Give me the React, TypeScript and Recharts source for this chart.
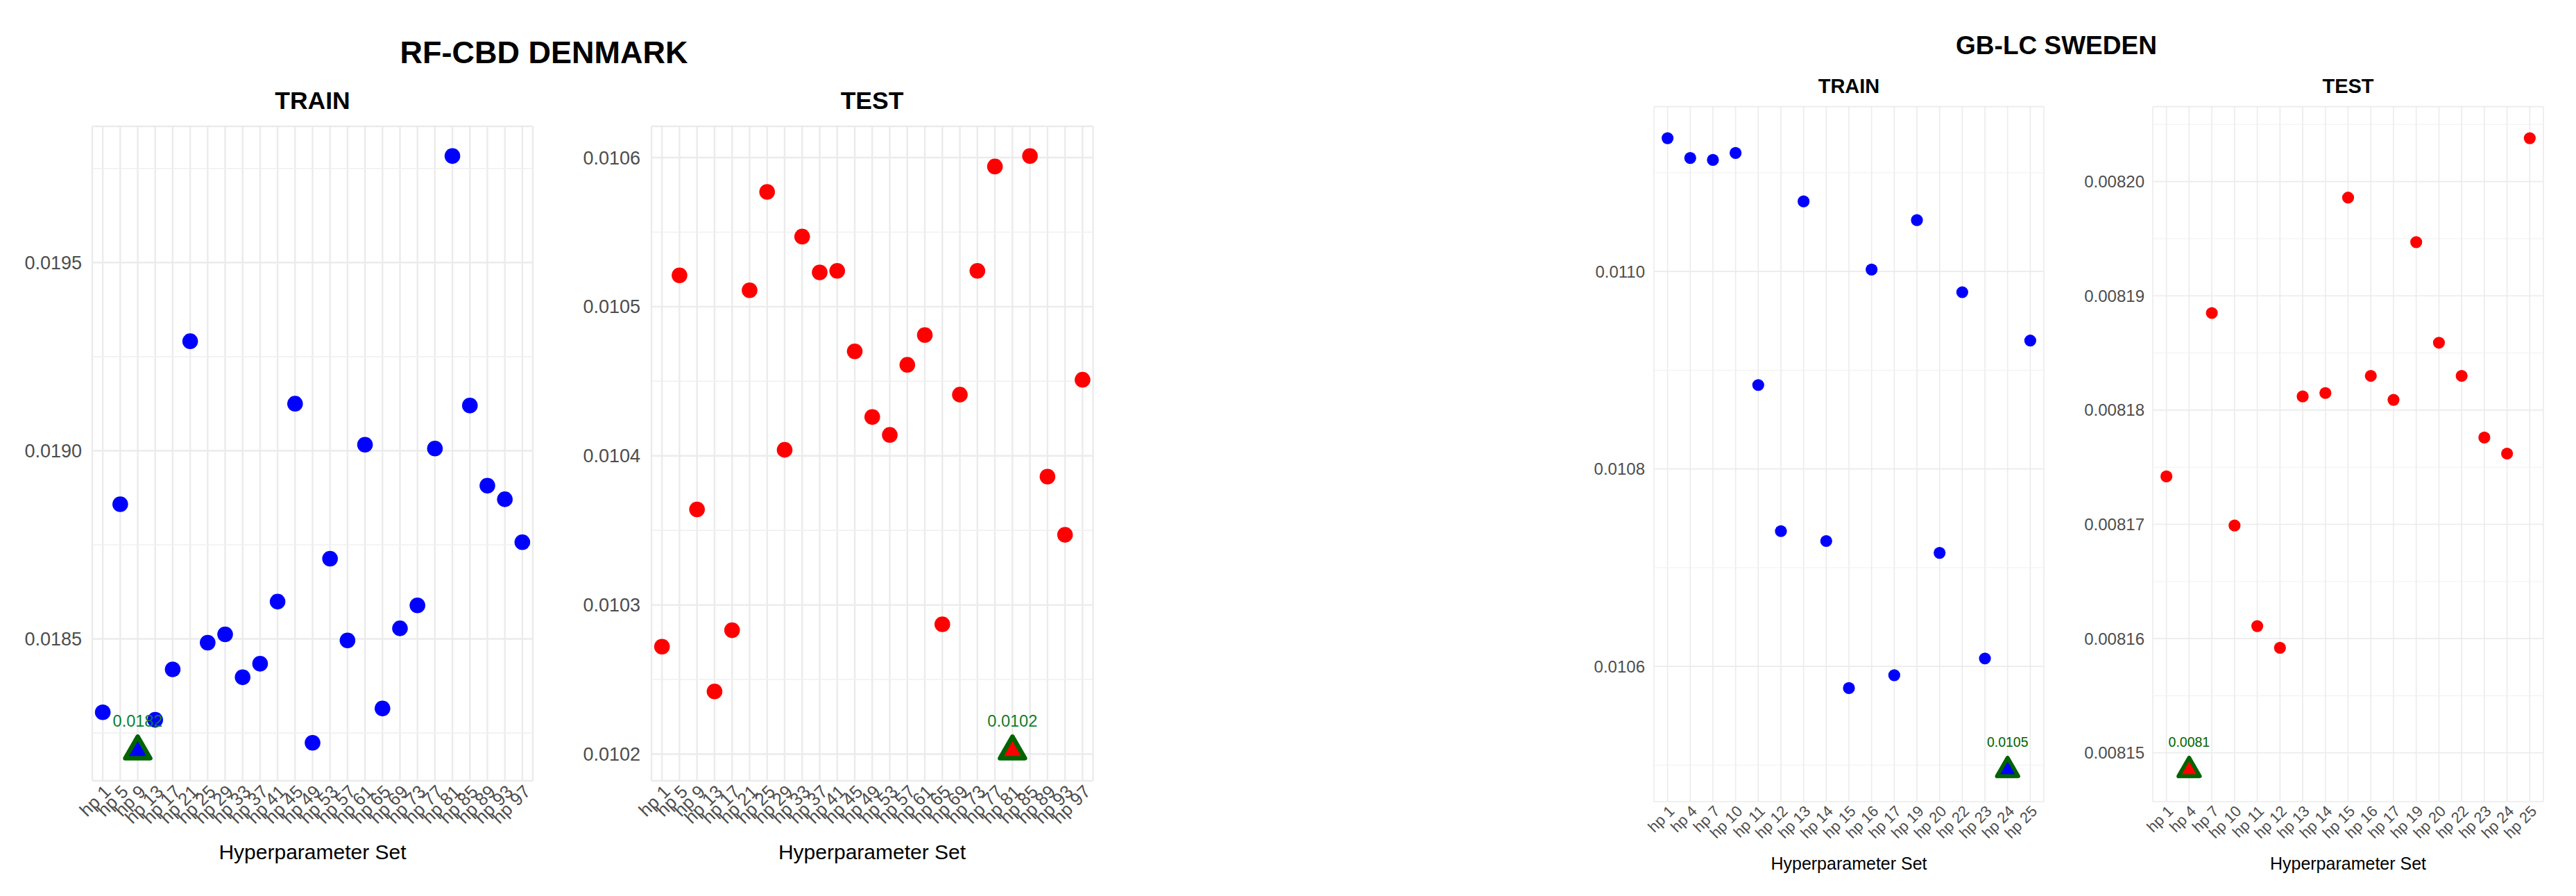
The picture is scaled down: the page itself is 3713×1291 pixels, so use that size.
import React from 'react';
import { ScatterChart, Scatter, XAxis, YAxis, CartesianGrid } from 'recharts';

// ---------------- DATA ----------------
const dkCategories = [
  'hp 1', 'hp 5', 'hp 9', 'hp 13', 'hp 17', 'hp 21', 'hp 25', 'hp 29', 'hp 33', 'hp 37',
  'hp 41', 'hp 45', 'hp 49', 'hp 53', 'hp 57', 'hp 61', 'hp 65', 'hp 69', 'hp 73', 'hp 77',
  'hp 81', 'hp 85', 'hp 89', 'hp 93', 'hp 97',
];
const dkTrainValues = [
  0.018305, 0.018858, 0.018202, 0.018285, 0.018419, 0.019291, 0.01849, 0.018512, 0.018398, 0.018434,
  0.018599, 0.019125, 0.018224, 0.018713, 0.018496, 0.019016, 0.018315, 0.018528, 0.018589, 0.019006,
  0.019783, 0.01912, 0.018907, 0.018871, 0.018757,
];
const dkTestValues = [
  0.010272, 0.010521, 0.010364, 0.010242, 0.010283, 0.010511, 0.010577, 0.010404, 0.010547, 0.010523,
  0.010524, 0.01047, 0.010426, 0.010414, 0.010461, 0.010481, 0.010287, 0.010441, 0.010524, 0.010594,
  0.010202, 0.010601, 0.010386, 0.010347, 0.010451,
];
const dkTrainTicks = [0.0185, 0.019, 0.0195];
const dkTrainMinor = [0.01825, 0.01875, 0.01925, 0.01975];
const dkTestTicks = [0.0102, 0.0103, 0.0104, 0.0105, 0.0106];
const dkTestMinor = [0.01025, 0.01035, 0.01045, 0.01055];

const seCategories = [
  'hp 1', 'hp 4', 'hp 7', 'hp 10', 'hp 11', 'hp 12', 'hp 13', 'hp 14', 'hp 15', 'hp 16',
  'hp 17', 'hp 19', 'hp 20', 'hp 22', 'hp 23', 'hp 24', 'hp 25',
];
const seTrainValues = [
  0.011135, 0.011115, 0.011113, 0.01112, 0.010885, 0.010737, 0.011071, 0.010727, 0.010578, 0.011002,
  0.010591, 0.011052, 0.010715, 0.010979, 0.010608, 0.010495, 0.01093,
];
const seTestValues = [
  0.0081742, 0.0081485, 0.0081885, 0.0081699, 0.0081611, 0.0081592, 0.0081812, 0.0081815, 0.0081986, 0.008183,
  0.0081809, 0.0081947, 0.0081859, 0.008183, 0.0081776, 0.0081762, 0.0082038,
];
const seTrainTicks = [0.0106, 0.0108, 0.011];
const seTrainMinor = [0.0105, 0.0107, 0.0109, 0.0111];
const seTestTicks = [0.00815, 0.00816, 0.00817, 0.00818, 0.00819, 0.0082];
const seTestMinor = [0.008155, 0.008165, 0.008175, 0.008185, 0.008195, 0.008205];

// ---------------- STYLE ----------------
const FONT = '"Liberation Sans", Arial, Helvetica, sans-serif';
const BLUE = '#0000FF';
const RED = '#FF0000';
const DARKGREEN = '#006400';

type Cfg = {
  plotLeft: number; plotTop: number; plotW: number; plotH: number;
  yw: number; gap: number; yFs: number; xFs: number; r: number;
  triR: number; triSW: number; labFs: number; labOff: number; labColor: string;
  majorW: number; minorW: number; decimals: number;
};

const XTick = (labels: string[], fs: number) => (props: any) => {
  const { x, y, payload } = props;
  return (
    <text
      x={x}
      y={y}
      dy={fs * 0.72}
      transform={`rotate(-45, ${x}, ${y})`}
      textAnchor="end"
      fontSize={fs}
      fontFamily={FONT}
      fill="#4D4D4D"
    >
      {labels[payload.value]}
    </text>
  );
};

function Panel({
  categories, values, ticks, minor, color, cfg,
}: {
  categories: string[]; values: number[]; ticks: number[]; minor: number[]; color: string; cfg: Cfg;
}) {
  const data = values.map((v, i) => ({ i, v }));
  const lo = Math.min(...values);
  const hi = Math.max(...values);
  const pad = (hi - lo) * 0.05;
  const bestIdx = values.indexOf(lo);
  const best = [{ i: bestIdx, v: lo }];
  const n = categories.length;
  const idx = categories.map((_, i) => i);
  const label = lo.toFixed(4);
  const W = cfg.yw + cfg.plotW + 40;
  const H = cfg.plotTop + cfg.plotH + 120;

  const dot = (p: any) => <circle cx={p.cx} cy={p.cy} r={cfg.r} fill={color} />;
  const tri = (p: any) => {
    const R = cfg.triR;
    const hw = R * 0.866;
    const pts = `${p.cx},${p.cy - R} ${p.cx + hw},${p.cy + R / 2} ${p.cx - hw},${p.cy + R / 2}`;
    return (
      <g>
        <polygon points={pts} fill={color} stroke={DARKGREEN} strokeWidth={cfg.triSW} strokeLinejoin="round" />
        <text
          x={p.cx}
          y={p.cy - cfg.labOff + cfg.labFs * 0.358}
          textAnchor="middle"
          fontSize={cfg.labFs}
          fontFamily={FONT}
          fill={cfg.labColor}
        >
          {label}
        </text>
      </g>
    );
  };

  return (
    <div style={{ position: 'absolute', left: cfg.plotLeft - cfg.yw, top: 0 }}>
      <ScatterChart
        width={W}
        height={H}
        margin={{ top: cfg.plotTop, right: 40, bottom: 10, left: 0 }}
      >
        <CartesianGrid stroke="#EBEBEB" strokeWidth={cfg.majorW} />
        <CartesianGrid stroke="#F0F0F0" strokeWidth={cfg.minorW} vertical={false} horizontalValues={minor} />
        <XAxis
          type="number"
          dataKey="i"
          domain={[-0.6, n - 0.4]}
          ticks={idx}
          interval={0}
          allowDataOverflow
          tickLine={false}
          axisLine={false}
          tickSize={0}
          tickMargin={4}
          height={110}
          tick={XTick(categories, cfg.xFs)}
        />
        <YAxis
          type="number"
          dataKey="v"
          domain={[lo - pad, hi + pad]}
          ticks={ticks}
          interval={0}
          allowDataOverflow
          tickLine={false}
          axisLine={false}
          tickSize={0}
          tickMargin={cfg.gap}
          width={cfg.yw}
          tickFormatter={(t: number) => t.toFixed(cfg.decimals)}
          tick={{ fill: '#4D4D4D', fontSize: cfg.yFs, fontFamily: FONT }}
        />
        <Scatter data={data} shape={dot} isAnimationActive={false} />
        <Scatter data={best} shape={tri} isAnimationActive={false} />
      </ScatterChart>
    </div>
  );
}

function Title({ text, cx, capY, fs }: { text: string; cx: number; capY: number; fs: number }) {
  return (
    <div
      style={{
        position: 'absolute',
        left: cx - 600,
        width: 1200,
        top: capY - 0.49 * fs,
        textAlign: 'center',
        fontSize: fs,
        lineHeight: `${fs}px`,
        fontWeight: 'bold',
        fontFamily: FONT,
        color: '#000',
        whiteSpace: 'nowrap',
      }}
    >
      {text}
    </div>
  );
}

function AxisTitle({ cx, capY, fs }: { cx: number; capY: number; fs: number }) {
  return (
    <div
      style={{
        position: 'absolute',
        left: cx - 400,
        width: 800,
        top: capY - 0.49 * fs,
        textAlign: 'center',
        fontSize: fs,
        lineHeight: `${fs}px`,
        fontFamily: FONT,
        color: '#000',
        whiteSpace: 'nowrap',
      }}
    >
      Hyperparameter Set
    </div>
  );
}

const dkBase = {
  plotTop: 182, plotH: 943, yFs: 27, xFs: 26, r: 11.3,
  triR: 20.8, triSW: 6.5, labFs: 23.5, labOff: 44, labColor: '#0B7F2A',
  majorW: 2.4, minorW: 1.6, decimals: 4,
};
const seBase = {
  plotTop: 153.6, plotH: 1001.4, yFs: 24, xFs: 22, r: 8.6,
  triR: 17.8, triSW: 5.6, labFs: 19.5, labOff: 40, labColor: DARKGREEN,
  majorW: 1.6, minorW: 1.0,
};

export default function App() {
  return (
    <div
      style={{
        position: 'absolute',
        left: 0,
        top: 0,
        width: 3713,
        height: 1291,
        background: '#FFFFFF',
        overflow: 'hidden',
      }}
    >
      <Title text="RF-CBD DENMARK" cx={784} capY={74.7} fs={45} />
      <Title text="TRAIN" cx={450.5} capY={145.2} fs={35.5} />
      <Title text="TEST" cx={1257} capY={145.2} fs={35.5} />
      <Title text="GB-LC SWEDEN" cx={2964} capY={65.2} fs={37} />
      <Title text="TRAIN" cx={2665} capY={124.2} fs={29} />
      <Title text="TEST" cx={3384.5} capY={124.2} fs={29} />

      <Panel
        categories={dkCategories}
        values={dkTrainValues}
        ticks={dkTrainTicks}
        minor={dkTrainMinor}
        color={BLUE}
        cfg={{ ...dkBase, plotLeft: 133, plotW: 635, yw: 133, gap: 15 }}
      />
      <Panel
        categories={dkCategories}
        values={dkTestValues}
        ticks={dkTestTicks}
        minor={dkTestMinor}
        color={RED}
        cfg={{ ...dkBase, plotLeft: 939, plotW: 636.5, yw: 120, gap: 16 }}
      />
      <Panel
        categories={seCategories}
        values={seTrainValues}
        ticks={seTrainTicks}
        minor={seTrainMinor}
        color={BLUE}
        cfg={{ ...seBase, plotLeft: 2384, plotW: 562, yw: 110, gap: 13, decimals: 4 }}
      />
      <Panel
        categories={seCategories}
        values={seTestValues}
        ticks={seTestTicks}
        minor={seTestMinor}
        color={RED}
        cfg={{ ...seBase, plotLeft: 3103, plotW: 563, yw: 120, gap: 12, decimals: 5 }}
      />

      <AxisTitle cx={450.5} capY={1228} fs={30} />
      <AxisTitle cx={1257} capY={1228} fs={30} />
      <AxisTitle cx={2665} capY={1244} fs={25} />
      <AxisTitle cx={3384.5} capY={1244} fs={25} />
    </div>
  );
}
